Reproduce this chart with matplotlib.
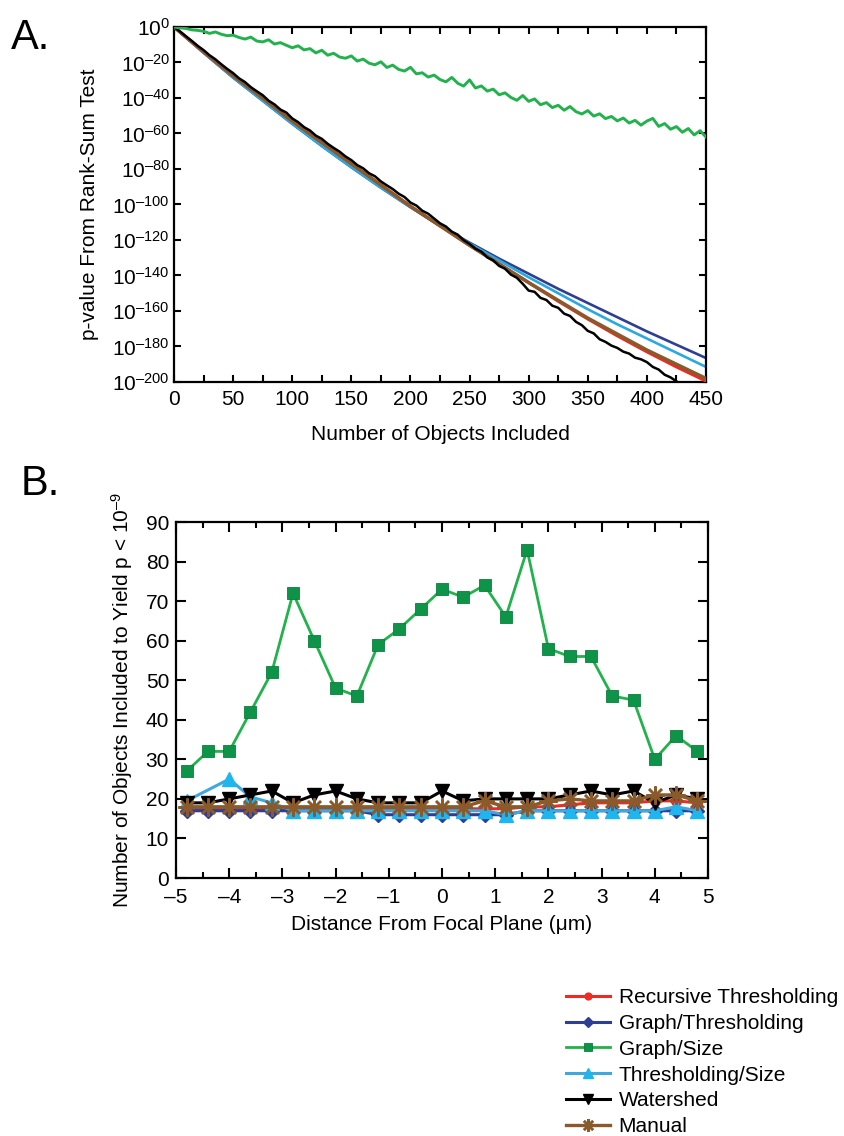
import matplotlib
matplotlib.use("Agg")
import matplotlib.pyplot as plt
from matplotlib.ticker import MultipleLocator, FuncFormatter, FixedLocator, NullLocator

plt.rcParams['font.family'] = ['Liberation Sans', 'DejaVu Sans']
plt.rcParams['mathtext.fontset'] = 'custom'
plt.rcParams['mathtext.rm'] = 'Liberation Sans'
plt.rcParams['mathtext.it'] = 'Liberation Sans:italic'
plt.rcParams['mathtext.default'] = 'regular'

# ---------------- Panel A data (log10 of p-value) ----------------
objs_25 = [0, 25, 50, 75, 100, 125, 150, 175, 200, 225, 250, 275, 300, 325, 350, 375, 400, 425, 450]
logp_recursive = [0, -14, -27.5, -40, -53, -65, -77, -89, -101, -112, -123, -133.5, -144, -154.5, -164.5, -174, -183, -191.5, -199.5]
logp_graph_thr = [0, -14.5, -28.5, -41.5, -54.5, -67, -79, -90.5, -101.5, -112, -121.5, -130.5, -139, -147.5, -155.5, -163.5, -171.5, -179, -186.5]
logp_thr_size = [0, -14.5, -28.5, -41.5, -54.5, -67, -79, -90.5, -101.5, -112, -122, -131.5, -141, -150, -159, -167.5, -175.5, -183.5, -191.5]
logp_manual = [0, -14, -27.5, -40, -53, -65, -77, -89, -101, -112, -123, -133.5, -144, -154, -164, -173, -182, -190, -198]

objs_5 = list(range(0, 451, 5))
logp_graph_size = [0, -0.5, -0.8, -1.6, -1.9, -2.4, -3.6, -2.8, -4.1, -4.9,
                   -4.6, -5.9, -6.8, -5.7, -7.9, -8.4, -7.2, -9.6, -8.8, -10.3,
                   -11.7, -10.6, -12.9, -12.2, -14.6, -13.1, -15.9, -14.8, -16.9, -17.6,
                   -16.3, -19.2, -18.1, -20.4, -21.3, -19.6, -22.8, -21.5, -23.9, -24.8,
                   -22.7, -26.4, -25.8, -28.2, -27.1, -29.6, -30.9, -28.4, -31.7, -33.3,
                   -29.8, -34.4, -33.2, -36.1, -35.0, -38.2, -37.1, -39.7, -41.3, -38.6,
                   -41.9, -40.5, -43.8, -42.6, -45.4, -44.1, -46.9, -44.8, -47.7, -49.0,
                   -47.1, -50.2, -48.9, -51.6, -50.4, -52.9, -51.3, -54.1, -52.6, -55.3,
                   -53.0, -51.5, -56.0, -54.4, -57.6, -56.1, -59.3, -57.2, -60.8, -58.4,
                   -62.0]
logp_watershed = [0, -2.5, -5.2, -7.8, -10.6, -13.0, -15.9, -18.2, -21.0, -23.6,
                  -26.0, -28.9, -31.0, -33.9, -36.2, -38.4, -41.5, -43.6, -46.5, -48.2,
                  -51.5, -53.6, -56.4, -58.3, -61.2, -63.0, -65.8, -68.1, -70.2, -72.9,
                  -75.0, -77.8, -79.6, -82.4, -84.1, -87.0, -89.2, -91.3, -93.9, -95.8,
                  -98.9, -100.6, -103.5, -105.2, -107.9, -110.6, -112.4, -115.3, -117.0, -120.1,
                  -122.2, -124.9, -126.6, -129.8, -131.5, -134.6, -136.2, -139.5, -141.3, -144.7,
                  -148.5, -149.2, -152.6, -153.8, -157.0, -158.2, -161.5, -162.8, -166.1, -168.0,
                  -171.2, -172.6, -175.9, -177.4, -179.5, -180.8, -182.9, -184.0, -186.3, -187.2,
                  -188.8, -191.5, -193.0, -195.9, -197.4, -199.6, -201.8, -203.5, -205.9, -207.5,
                  -209.8]

# ---------------- Panel B data ----------------
dist = [-4.8, -4.4, -4.0, -3.6, -3.2, -2.8, -2.4, -2.0, -1.6, -1.2, -0.8, -0.4, 0.0,
        0.4, 0.8, 1.2, 1.6, 2.0, 2.4, 2.8, 3.2, 3.6, 4.0, 4.4, 4.8]
n_recursive = [17.5, 17.5, 17.5, 17.5, 17.5, 17.5, 17.5, 17.5, 17.5, 17.5, 17.5, 17.5, 17.5,
               17.5, 17.5, 17.5, 18, 18, 18.5, 19, 19, 19, 19.5, 19.5, 19]
n_graph_thr = [17, 17, 17, 17, 17, 17, 17, 17, 17, 16, 16, 16, 16,
               16, 16, 16, 17, 17, 17, 17, 17, 17, 17, 17, 17]
n_graph_size = [27, 32, 32, 42, 52, 72, 60, 48, 46, 59, 63, 68, 73,
                71, 74, 66, 83, 58, 56, 56, 46, 45, 30, 36, 32]
dist_thr_size = [-4.8, -4.0, -3.6, -3.2, -2.8, -2.4, -2.0, -1.6, -1.2, -0.8, -0.4, 0.0,
                 0.4, 0.8, 1.2, 1.6, 2.0, 2.4, 2.8, 3.2, 3.6, 4.0, 4.4, 4.8]
n_thr_size = [19.5, 25, 20.5, 19, 17, 17, 17, 17, 17, 17, 17, 17,
              17, 17, 16, 17, 17, 17, 17, 17, 17, 17, 18, 17]
n_watershed = [19, 19, 20, 21, 22, 19, 21, 22, 20, 19, 19, 19, 22,
               19.5, 20, 20, 20, 20, 21, 22, 21, 22, 19, 21, 20]
n_manual = [18, 18, 18, 18, 18, 18, 18, 18, 18, 18, 18, 18, 18,
            18, 19.5, 18, 18, 19.5, 20, 19.5, 19.5, 19.5, 21, 21, 19.5]

labels = ['Recursive Thresholding', 'Graph/Thresholding', 'Graph/Size',
          'Thresholding/Size', 'Watershed', 'Manual']
c_red = '#EE2A24'
c_navy = '#2E3E95'
c_green_line = '#22B24C'
c_green_mk = '#0D9448'
c_lblue = '#2AA9E0'
c_lblue_mk = '#1DB6EE'
c_black = '#000000'
c_brown = '#8B5A2B'

FS = 15
DASH = '\u2013'
fig = plt.figure(figsize=(8.45, 11.36), dpi=100)

def style_axes(ax):
    for s in ax.spines.values():
        s.set_linewidth(1.6)
    ax.tick_params(which='both', direction='in', top=True, right=True,
                   width=1.5, labelsize=FS, pad=5)

# ---------------- Panel A ----------------
axA = fig.add_axes([174/845, 1-382/1136, 532/845, 355/1136])
def pw(vals):
    return [10.0**v for v in vals]
axA.plot(objs_25, pw(logp_graph_thr), color=c_navy, lw=1.9, zorder=2)
axA.plot(objs_25, pw(logp_thr_size), color=c_lblue, lw=1.9, zorder=2)
axA.plot(objs_25, pw(logp_recursive), color=c_red, lw=2.2, zorder=3)
axA.plot(objs_25, pw(logp_manual), color=c_brown, lw=2.5, zorder=4)
axA.plot(objs_5, pw(logp_watershed), color=c_black, lw=1.8, zorder=5)
axA.plot(objs_5, pw(logp_graph_size), color=c_green_line, lw=2.1, zorder=5)
axA.set_yscale('log')
axA.set_xlim(0, 450)
axA.set_ylim(1e-200, 1)
yt = [10.0**(-e) for e in range(0, 201, 20)]
axA.yaxis.set_major_locator(FixedLocator(yt))
axA.yaxis.set_minor_locator(NullLocator())
axA.set_yticklabels([r'$10^{0}$'] + [r'$10^{%s%d}$' % (DASH, e) for e in range(20, 201, 20)])
axA.xaxis.set_major_locator(MultipleLocator(25))
axA.xaxis.set_major_formatter(FuncFormatter(lambda v, p: '%d' % v if int(round(v)) % 50 == 0 else ''))
style_axes(axA)
axA.tick_params(which='major', length=5)
axA.tick_params(axis='y', pad=3)
axA.tick_params(axis='x', pad=6)
axA.set_xlabel('Number of Objects Included', fontsize=FS, labelpad=11)
axA.set_ylabel('p-value From Rank-Sum Test', fontsize=FS, labelpad=10)

# ---------------- Panel B ----------------
axB = fig.add_axes([176/845, 1-878/1136, 532/845, 356/1136])
h1, = axB.plot(dist, n_recursive, color=c_red, lw=2.2, marker='o', ms=7,
               mfc=c_red, mec=c_red, label=labels[0])
h2, = axB.plot(dist, n_graph_thr, color=c_navy, lw=2.2, marker='D', ms=7,
               mfc=c_navy, mec=c_navy, label=labels[1])
h3, = axB.plot(dist, n_graph_size, color=c_green_line, lw=2.0, marker='s', ms=8.5,
               mfc=c_green_mk, mec='#0a7f3c', mew=0.6, label=labels[2])
h4, = axB.plot(dist_thr_size, n_thr_size, color='#3FA8DE', lw=2.2, marker='^', ms=10,
               mfc=c_lblue_mk, mec=c_lblue_mk, label=labels[3])
h5, = axB.plot(dist, n_watershed, color=c_black, lw=2.2, marker='v', ms=10,
               mfc=c_black, mec=c_black, label=labels[4])
h6, = axB.plot(dist, n_manual, color=c_brown, lw=2.4, marker=(8, 2, 0), ms=13,
               mfc=c_brown, mec=c_brown, mew=1.8, label=labels[5])
axB.set_xlim(-5, 5)
axB.set_ylim(0, 90)
axB.xaxis.set_major_locator(MultipleLocator(1))
axB.xaxis.set_minor_locator(MultipleLocator(0.5))
axB.xaxis.set_major_formatter(FuncFormatter(
    lambda v, p: (DASH + '%d' % abs(round(v))) if v < -0.01 else '%d' % round(v)))
axB.yaxis.set_major_locator(MultipleLocator(10))
style_axes(axB)
axB.tick_params(which='major', length=7)
axB.tick_params(which='minor', length=4)
axB.tick_params(axis='x', pad=7)
axB.set_xlabel('Distance From Focal Plane (\u03bcm)', fontsize=FS, labelpad=6)
axB.set_ylabel(r'Number of Objects Included to Yield p < 10$^{%s9}$' % DASH, fontsize=FS, labelpad=8)

leg = fig.legend(handles=[h1, h2, h3, h4, h5, h6], loc='upper left',
                 bbox_to_anchor=(566/845, 1-988/1136), frameon=False,
                 fontsize=FS, handlelength=2.1, handletextpad=0.43,
                 labelspacing=0.33, markerscale=0.7, borderpad=0, borderaxespad=0)

fig.text(11/845, 1-18/1136, 'A.', fontsize=30, ha='left', va='top')
fig.text(21/845, 1-464/1136, 'B.', fontsize=30, ha='left', va='top')

fig.savefig('out.png', dpi=100)
